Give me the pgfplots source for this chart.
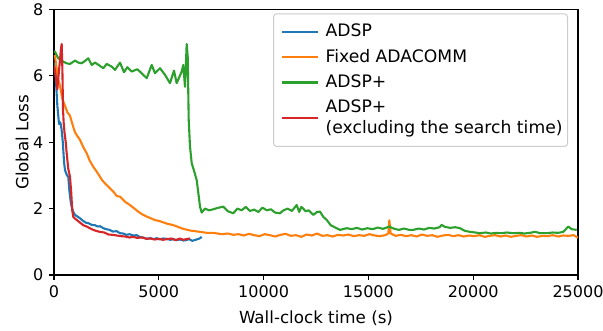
\documentclass[border=0pt]{standalone}
\usepackage{fontspec}
\setmainfont{DejaVu Sans}
\usepackage{pgfplots}
\pgfplotsset{compat=1.18}
\definecolor{cA}{HTML}{1F77B4}
\definecolor{cB}{HTML}{FF7F0E}
\definecolor{cC}{HTML}{2CA02C}
\definecolor{cD}{HTML}{D62728}
\begin{document}
\fontsize{16.7}{20}\selectfont
\begin{tikzpicture}
\begin{axis}[
  scale only axis, width=524pt, height=265.5pt,
  xmin=0, xmax=25000, ymin=0, ymax=8,
  xtick={0,5000,10000,15000,20000,25000}, ytick={0,2,4,6,8},
  scaled x ticks=false,
  /pgf/number format/assume math mode=true,
  xticklabel style={/pgf/number format/1000 sep={}},
  tick pos=left, tick align=outside, major tick length=4.9pt,
  tick style={black, line width=1.1pt},
  axis line style={line width=1.1pt},
  every tick label/.append style={font=\fontsize{16}{19}\selectfont},
  label style={font=\fontsize{16.7}{20}\selectfont},
  xlabel={Wall-clock time (s)}, ylabel={Global Loss},
  xlabel style={at={(axis description cs:0.5,-0.162)}, anchor=center},
  ylabel style={at={(axis description cs:-0.061,0.5)}, anchor=center},
  no markers,
  every axis plot/.append style={line width=2.1pt, line join=round},
  legend style={at={(rel axis cs:0.981,0.985)}, anchor=north east,
    draw=black!20, rounded corners=3pt, line width=1pt, fill=white,
    font=\fontsize{17.2}{21}\selectfont, inner xsep=3pt, inner ysep=8pt,
    cells={anchor=west, align=left}, row sep=6pt},
  legend image code/.code={\path (-4pt,0pt) (41pt,0pt); \draw[#1] (0pt,0pt) -- (36pt,0pt);},
]
\addplot[cA] coordinates {
(0,6.4) (80,6.0) (160,5.1) (240,4.55) (300,4.6) (360,4.4) (420,4.0) (480,3.4) (525,3.16) (560,3.1) (620,3.0) (680,2.96) (740,2.5) (800,2.2) (844,2.06) (920,1.9) (1002,1.81) (1100,1.77) (1240,1.71) (1350,1.65) (1500,1.58) (1650,1.56) (1800,1.51) (1950,1.5) (2100,1.46) (2200,1.47) (2350,1.41) (2500,1.38) (2650,1.36) (2800,1.31) (2990,1.32) (3150,1.26) (3300,1.25) (3450,1.21) (3600,1.23) (3780,1.19) (3950,1.2) (4100,1.14) (4250,1.13) (4420,1.09) (4600,1.11) (4750,1.08) (4900,1.11) (5060,1.07) (5200,1.1) (5380,1.09) (5550,1.06) (5700,1.08) (5850,1.05) (6000,1.07) (6170,1.04) (6300,1.05) (6450,1.08) (6600,1.03) (6800,1.07) (6950,1.1) (7047,1.15)
};
\addlegendentry{ADSP}
\addplot[cB] coordinates {
(0,6.6) (48,6.6) (129,6.2) (200,5.9) (286,5.7) (400,5.3) (525,5.1) (640,4.9) (763,4.8) (900,4.5) (1002,4.3) (1100,4.2) (1240,4.07) (1400,3.85) (1560,3.67) (1700,3.45) (1875,3.26) (2000,3.15) (2195,2.96) (2300,2.85) (2500,2.72) (2672,2.61) (2850,2.5) (2991,2.38) (3149,2.36) (3400,2.2) (3600,2.12) (3783,2.03) (4000,1.92) (4200,1.83) (4423,1.76) (4580,1.72) (4800,1.66) (5057,1.62) (5377,1.55) (5700,1.5) (6000,1.43) (6169,1.39) (6500,1.34) (6966,1.3) (7300,1.27) (7600,1.27) (8000,1.23) (8300,1.25) (8554,1.21)
(8800,1.23) (9050,1.19) (9300,1.24) (9550,1.2) (9800,1.17) (10050,1.23) (10300,1.2) (10550,1.16) (10800,1.21) (11050,1.24) (11300,1.18) (11550,1.2) (11800,1.15) (12050,1.22) (12300,1.19) (12550,1.25) (12800,1.18) (13050,1.2) (13300,1.16) (13550,1.21) (13800,1.19) (14050,1.22) (14300,1.17) (14550,1.2) (14800,1.18) (15050,1.23) (15300,1.19) (15550,1.17) (15800,1.2) (15950,1.25) (16000,1.65) (16060,1.25) (16300,1.18) (16550,1.21) (16800,1.17) (17050,1.2) (17300,1.16) (17550,1.22) (17800,1.18) (18050,1.2) (18300,1.15) (18550,1.19) (18800,1.21) (19050,1.17) (19300,1.2) (19550,1.16) (19800,1.19) (20050,1.17) (20300,1.2) (20550,1.15) (20800,1.18) (21050,1.2) (21300,1.16) (21550,1.19) (21800,1.15) (22050,1.18) (22300,1.2) (22550,1.16) (22800,1.19) (23050,1.15) (23300,1.18) (23550,1.17) (23800,1.2) (24050,1.16) (24300,1.19) (24550,1.18) (24800,1.2) (25000,1.12)
};
\addlegendentry{Fixed ADACOMM}
\addplot[cC] coordinates {
(0,6.73) (48,6.73) (205,6.53) (444,6.43) (600,6.38) (763,6.36) (1002,6.46) (1160,6.4) (1320,6.38) (1480,6.45) (1637,6.53) (1797,6.33) (1956,6.40) (2150,6.32) (2354,6.23) (2513,6.36) (2752,6.28) (2910,6.18) (3149,6.40) (3340,6.11) (3498,6.26) (3705,6.13) (3975,6.20) (4183,6.08) (4423,5.93) (4661,6.33) (4819,6.08) (5057,6.23) (5296,6.03) (5534,5.78) (5725,6.16) (5852,5.78) (6093,6.13) (6169,6.33) (6250,5.67) (6331,6.96) (6379,6.58) (6427,4.67) (6489,3.87) (6570,3.37) (6700,3.1) (6808,2.86) (6900,2.4) (6966,2.06) (7047,1.88) (7204,2.0) (7400,1.95) (7600,1.98) (7800,2.02) (8077,2.06) (8300,1.92) (8554,1.86) (8750,2.0) (8950,1.95) (9150,2.05) (9350,1.93) (9550,1.97) (9750,1.9) (9950,2.03) (10150,1.95) (10350,1.98) (10550,1.88) (10782,1.86) (10950,1.95) (11150,2.0) (11350,1.93) (11579,2.11) (11700,1.9) (11800,2.05) (11894,2.0) (12000,1.92) (12150,1.95) (12372,1.81) (12550,1.9) (12691,1.91) (12850,1.75) (13011,1.66) (13200,1.5) (13326,1.46) (13645,1.36) (13965,1.41) (14200,1.38) (14450,1.42) (14700,1.37) (14950,1.41) (15200,1.38) (15450,1.43) (15700,1.39) (15997,1.46) (16200,1.4) (16450,1.36) (16700,1.4) (16950,1.36) (17142,1.36) (17400,1.4) (17650,1.37) (17900,1.42) (18150,1.4) (18400,1.44) (18497,1.51) (18650,1.45) (18900,1.42) (19150,1.44) (19370,1.41) (19600,1.33) (19850,1.3) (20100,1.28) (20324,1.26) (20600,1.28) (20850,1.25) (21100,1.27) (21350,1.26) (21600,1.28) (21913,1.26) (22200,1.27) (22450,1.25) (22700,1.27) (22950,1.3) (23200,1.26) (23507,1.26) (23800,1.28) (24050,1.27) (24299,1.3) (24537,1.46) (24700,1.38) (24938,1.36)
};
\addlegendentry{ADSP+}
\addplot[cD] coordinates {
(0,6.3) (60,6.1) (130,5.75) (160,5.6) (200,5.9) (260,6.3) (330,6.8) (367,6.96) (400,6.2) (430,5.0) (460,4.6) (500,4.3) (560,4.0) (606,3.67) (680,3.2) (763,2.96) (820,2.5) (870,1.95) (921,1.75) (1000,1.7) (1083,1.66) (1200,1.6) (1398,1.5) (1560,1.46) (1800,1.38) (2000,1.33) (2195,1.3) (2400,1.28) (2600,1.22) (2800,1.21) (3000,1.19) (3200,1.17) (3400,1.16) (3600,1.13) (3783,1.15) (3950,1.12) (4200,1.13) (4420,1.09) (4600,1.1) (4800,1.07) (5057,1.09) (5200,1.06) (5377,1.08) (5600,1.1) (5800,1.05) (6000,1.1) (6169,1.06) (6300,1.08) (6489,1.1)
};
\addlegendentry{ADSP+\\(excluding the search time)}
\end{axis}
\pgfresetboundingbox
\path (-54pt,-56pt) rectangle (549pt,275pt);
\end{tikzpicture}
\end{document}
